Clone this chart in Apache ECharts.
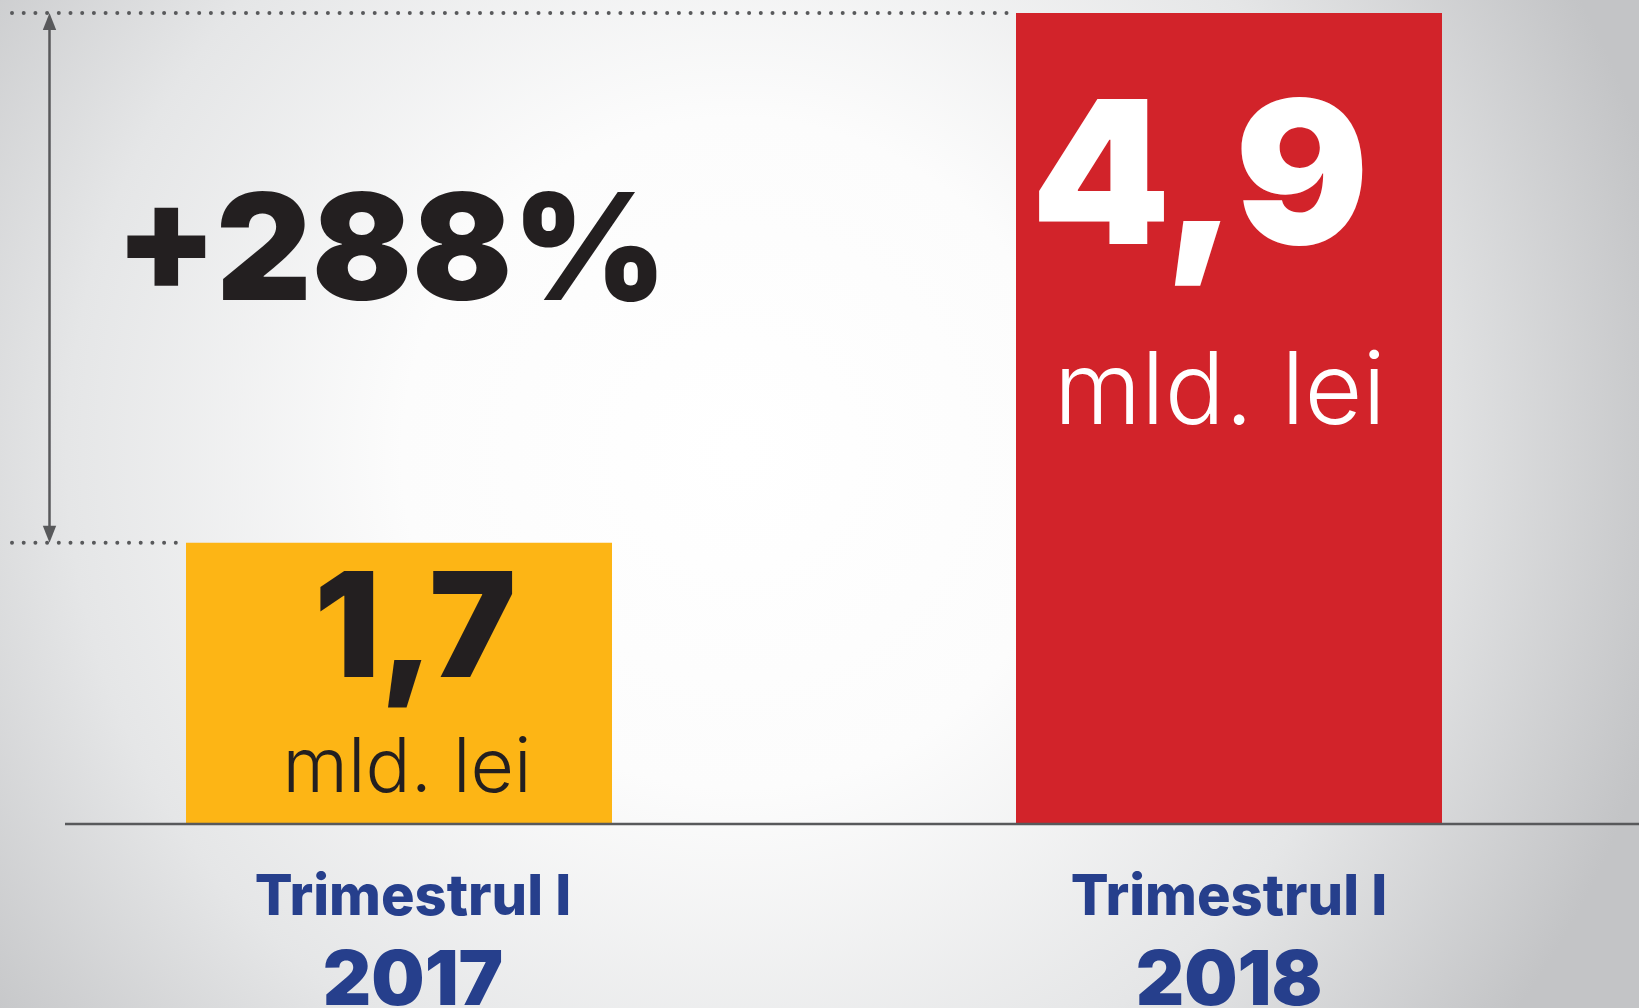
<!DOCTYPE html>
<html>
<head>
<meta charset="utf-8">
<script src="https://cdn.jsdelivr.net/npm/echarts@6/dist/echarts.min.js"></script>
<style>
html, body { margin: 0; padding: 0; }
#myChart1 { width: 1639px; height: 1008px; }
</style>
</head>
<body>
<div id="myChart1"></div>
<script>
// data
var years = ['2017', '2018'];
var period = 'Trimestrul I';
var values = [1.7, 4.9];
var unit = 'mld. lei';
var growthText = '+288%';
var barColors = ['#fdb515', '#d2232a'];

var ink = '#231f20';
var blue = '#263f8c';
var lineGrey = '#58595b';

function fmt(v) {
    return String(v).replace('.', ',');
}

var labelYellow = {
    show: true,
    position: 'insideTop',
    distance: 15,
    offset: [8, 0],
    formatter: function (p) { return '{a|' + fmt(p.value) + '}\n{b|' + unit + '}'; },
    rich: {
        a: { fontFamily: 'Inter', fontWeight: 900, fontSize: 146, lineHeight: 150, color: ink, padding: [0, 0, 0, 16] },
        b: { fontFamily: 'Inter', fontWeight: 300, fontSize: 75, lineHeight: 124, color: ink }
    }
};
var labelRed = {
    show: true,
    position: 'insideTop',
    distance: 71,
    offset: [-9, 0],
    formatter: function (p) { return '{a|' + fmt(p.value) + '}\n{b|' + unit + '}'; },
    rich: {
        a: { fontFamily: 'Inter', fontWeight: 900, fontSize: 199, lineHeight: 200, color: '#fff', padding: [0, 40, 0, 0] },
        b: { fontFamily: 'Inter', fontWeight: 300, fontSize: 100, lineHeight: 220, color: '#fff' }
    }
};
var labels = [labelYellow, labelRed];

var barData = values.map(function (v, i) {
    return { value: v, itemStyle: { color: barColors[i] }, label: labels[i] };
});

// the 2017 caption sits a little right of its bar
var yearItems = years.map(function (y, i) {
    return i === 0 ? { value: y, textStyle: { padding: [0, 0, 0, 28] } } : y;
});

var option = {
    backgroundColor: {
        type: 'radial', x: 0.45, y: 0.45, r: 0.95,
        colorStops: [
            { offset: 0, color: '#ffffff' },
            { offset: 0.35, color: '#fcfcfc' },
            { offset: 0.7, color: '#e5e6e7' },
            { offset: 1, color: '#c3c4c6' }
        ]
    },
    title: {
        text: growthText,
        left: 110,
        top: 176,
        textStyle: { fontFamily: 'Inter', fontWeight: 900, fontSize: 148, color: ink }
    },
    grid: { left: -16, right: -5, top: 13, bottom: 184, outerBoundsMode: 'none', containLabel: false },
    xAxis: {
        type: 'category',
        data: yearItems,
        axisLine: { show: false },
        axisTick: { show: false },
        axisLabel: {
            margin: 44,
            formatter: function (v) { return '{t|' + period + '}\n{y|' + v + '}'; },
            rich: {
                t: { fontFamily: 'Inter', fontWeight: 800, fontSize: 56, lineHeight: 60, color: blue },
                y: { fontFamily: 'Inter', fontWeight: 900, fontSize: 75, lineHeight: 108, color: blue }
            }
        }
    },
    yAxis: {
        type: 'value',
        min: 0,
        max: 4.9,
        show: false
    },
    series: [{
        type: 'bar',
        barWidth: 426,
        data: barData
    }]
};

var myChart1 = echarts.init(document.getElementById('myChart1'));
myChart1.setOption(option);

// annotations: dotted guides, arrow and baseline, placed from the data
var pLow = myChart1.convertToPixel({ seriesIndex: 0 }, [years[0], values[0]]);
var pTop = myChart1.convertToPixel({ seriesIndex: 0 }, [years[1], values[1]]);
var pZero = myChart1.convertToPixel({ seriesIndex: 0 }, [years[0], 0]);
var half = 426 / 2;
var arrowX = 49.5;
var dots = { stroke: lineGrey, lineWidth: 4, lineDash: [0, 11.7], lineCap: 'round' };

myChart1.setOption({
    graphic: [
        { type: 'line', shape: { x1: 12, y1: pTop[1], x2: pTop[0] - half, y2: pTop[1] }, style: dots, z: 5 },
        { type: 'line', shape: { x1: 12, y1: pLow[1], x2: pLow[0] - half, y2: pLow[1] }, style: dots, z: 5 },
        { type: 'line', shape: { x1: arrowX, y1: pTop[1] + 12, x2: arrowX, y2: pLow[1] - 12 }, style: { stroke: lineGrey, lineWidth: 2.5 }, z: 5 },
        { type: 'polygon', shape: { points: [[arrowX, pTop[1]], [arrowX - 6.7, pTop[1] + 17], [arrowX + 6.7, pTop[1] + 17]] }, style: { fill: lineGrey }, z: 6 },
        { type: 'polygon', shape: { points: [[arrowX, pLow[1]], [arrowX - 6.7, pLow[1] - 17], [arrowX + 6.7, pLow[1] - 17]] }, style: { fill: lineGrey }, z: 6 },
        { type: 'line', shape: { x1: 65, y1: pZero[1], x2: 1639, y2: pZero[1] }, style: { stroke: lineGrey, lineWidth: 2.7 }, z: 5 }
    ]
});
window.onresize = myChart1.resize;
</script>
</body>
</html>
